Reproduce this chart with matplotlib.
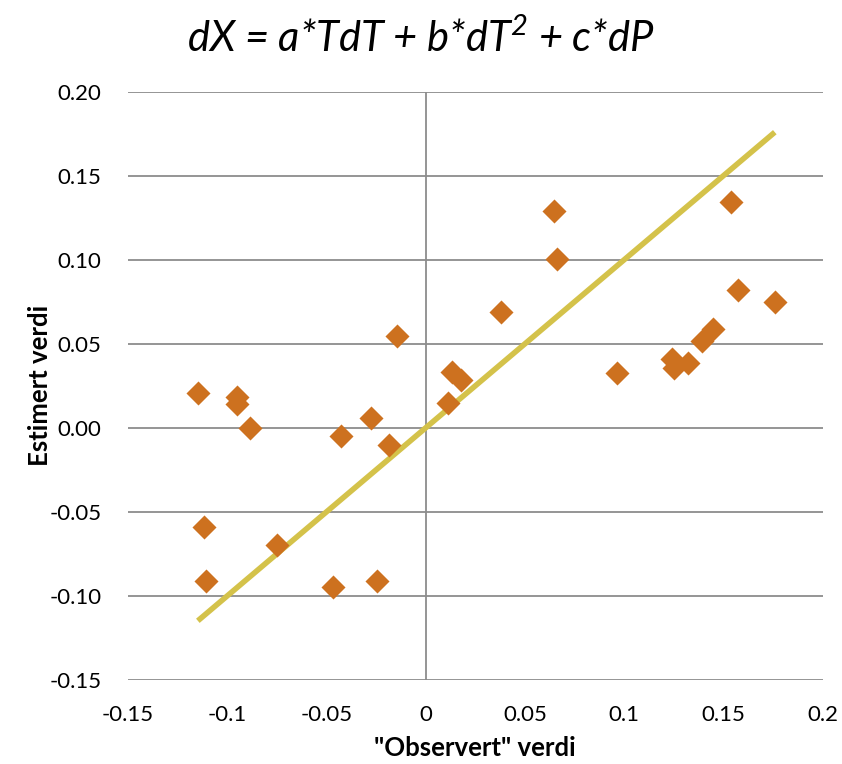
import matplotlib
matplotlib.use("Agg")
import matplotlib.pyplot as plt
import numpy as np

observed = [-0.1148, -0.0952, -0.0952, -0.0886, -0.1118, -0.1108, -0.0750, -0.0468,
            -0.0247, -0.0428, -0.0277, -0.0186, -0.0146, 0.0131, 0.0180, 0.0112,
            0.0379, 0.0648, 0.0661, 0.0962, 0.1240, 0.1249, 0.1320, 0.1390,
            0.1450, 0.1539, 0.1573, 0.1759]
estimated = [0.0208, 0.0185, 0.0143, 0.0002, -0.0589, -0.0911, -0.0700, -0.0946,
             -0.0911, -0.0048, 0.0060, -0.0101, 0.0548, 0.0335, 0.0286, 0.0150,
             0.0692, 0.1293, 0.1004, 0.0329, 0.0410, 0.0355, 0.0385, 0.0518,
             0.0591, 0.1341, 0.0821, 0.0746]
xticks = [-0.15, -0.1, -0.05, 0, 0.05, 0.1, 0.15, 0.2]
xticklabels = ["-0.15", "-0.1", "-0.05", "0", "0.05", "0.1", "0.15", "0.2"]
yticks = [-0.15, -0.10, -0.05, 0.00, 0.05, 0.10, 0.15, 0.20]

plt.rcParams['font.family'] = ['Lato', 'DejaVu Sans']
plt.rcParams['mathtext.fontset'] = 'custom'
plt.rcParams['mathtext.rm'] = 'Lato:italic'
plt.rcParams['mathtext.it'] = 'Lato:italic'
fig = plt.figure(figsize=(8.42, 7.64), dpi=100)
ax = fig.add_axes([0.152, 0.110, 0.825, 0.770])

ax.set_xlim(-0.15, 0.2)
ax.set_ylim(-0.15, 0.2)
for y in yticks:
    ax.axhline(y, color='#8c8c8c', lw=1.3, zorder=0)
ax.axvline(0, color='#8c8c8c', lw=1.3, zorder=0)

xl = np.array([min(observed), max(observed)])
ax.plot(xl, xl, color='#d4c24a', lw=4, zorder=2, solid_capstyle='butt')
ax.scatter(observed, estimated, marker='D', s=150, color='#cd711f', zorder=3, linewidths=0)

for s in ax.spines.values():
    s.set_visible(False)
ax.set_xticks(xticks)
ax.set_xticklabels(xticklabels)
ax.set_yticks(yticks)
ax.set_yticklabels([f"{v:.2f}" for v in yticks])
ax.tick_params(length=0, labelsize=16, colors='black')
ax.tick_params(axis='x', pad=18)
ax.tick_params(axis='y', pad=19)

ax.set_xlabel('"Observert" verdi', fontsize=18.5, fontweight='bold', labelpad=8)
ax.set_ylabel('Estimert verdi', fontsize=18.5, fontweight='bold', labelpad=-2)
fig.text(0.5, 0.950, r'dX = a*TdT + b*dT$\mathrm{^2}$ + c*dP', ha='center', va='center',
         fontsize=30, style='italic')

fig.savefig('out.png', dpi=100)
